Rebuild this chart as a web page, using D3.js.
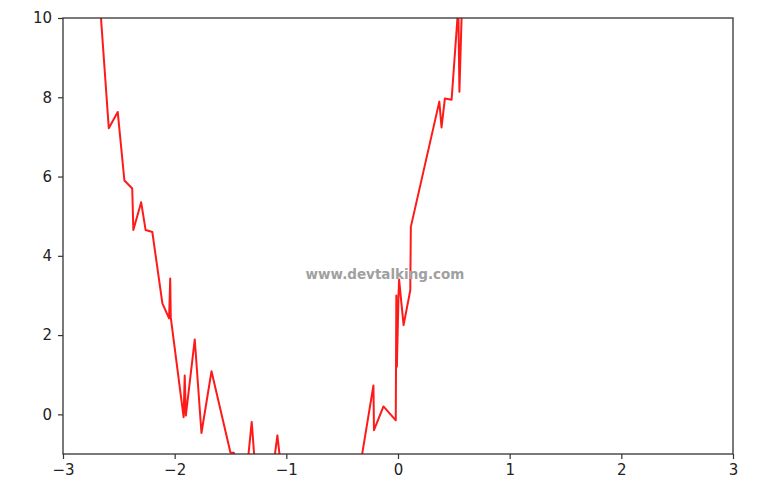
<!DOCTYPE html>
<html><head><meta charset="utf-8">
<script src="https://cdn.jsdelivr.net/npm/d3@7"></script>
<style>body{margin:0;background:#fff}svg{display:block}</style>
</head><body><svg id="c" width="763" height="495"></svg>
<script>
const xs = [-2.69,-2.59,-2.51,-2.45,-2.38,-2.37,-2.30,-2.26,-2.20,-2.11,-2.05,-2.04,-2.035,-1.92,-1.91,-1.90,-1.82,-1.76,-1.67,-1.50,-1.47,-1.40,-1.36,-1.31,-1.27,-1.13,-1.08,-1.03,-0.70,-0.50,-0.35,-0.22,-0.215,-0.13,-0.02,-0.015,-0.01,0.005,0.01,0.05,0.11,0.115,0.37,0.39,0.42,0.48,0.54,0.55,0.585];
const ys = [11.2,7.22,7.63,5.9,5.7,4.65,5.35,4.65,4.6,2.8,2.42,3.43,2.45,-0.07,0.98,-0.03,1.89,-0.47,1.09,-0.97,-0.97,-1.9,-1.6,-0.19,-1.7,-1.6,-0.53,-1.8,-2.6,-2.2,-1.5,0.73,-0.4,0.2,-0.15,3.0,1.2,3.05,3.4,2.25,3.13,4.73,7.89,7.24,7.97,7.94,10.3,8.14,11.5];
const xTicks = [-3,-2,-1,0,1,2,3];
const yTicks = [0,2,4,6,8,10];

const svg = d3.select("#c");
const L=63,R=733,T=18,B=454;
const x = d3.scaleLinear().domain([-3,3]).range([L,R]);
const y = d3.scaleLinear().domain([-1,10]).range([B,T]);
const data = xs.map((v,i)=>[v,ys[i]]);

svg.append("clipPath").attr("id","clip").append("rect").attr("x",L).attr("y",T).attr("width",R-L).attr("height",B-T);
svg.append("path").datum(data).attr("clip-path","url(#clip)")
  .attr("fill","none").attr("stroke","#ff1a1a").attr("stroke-width",2).attr("stroke-linejoin","round")
  .attr("d",d3.line().x(d=>x(d[0])).y(d=>y(d[1])));

const fmt = d=> d<0 ? "\u2212"+Math.abs(d) : String(d);
const ax = svg.append("g").attr("transform",`translate(0,${B})`).call(d3.axisBottom(x).tickValues(xTicks).tickFormat(fmt).tickSize(5).tickPadding(5));
const ay = svg.append("g").attr("transform",`translate(${L},0)`).call(d3.axisLeft(y).tickValues(yTicks).tickFormat(fmt).tickSize(5).tickPadding(6));
[ax,ay].forEach(g=>{
  g.select(".domain").remove();
  g.selectAll("line").attr("stroke","#333").attr("stroke-width",1.2);
  g.selectAll("text").attr("fill","#222").style("font-family","DejaVu Sans").style("font-size","15px");
});
svg.append("rect").attr("x",L).attr("y",T).attr("width",R-L).attr("height",B-T)
  .attr("fill","none").attr("stroke","#333").attr("stroke-width",1.3);

svg.append("text").attr("x",385).attr("y",279).attr("text-anchor","middle")
  .style("font-family","DejaVu Sans").style("font-size","13.5px").style("font-weight","600")
  .attr("fill","#a0a0a0").text("www.devtalking.com");
</script></body></html>
